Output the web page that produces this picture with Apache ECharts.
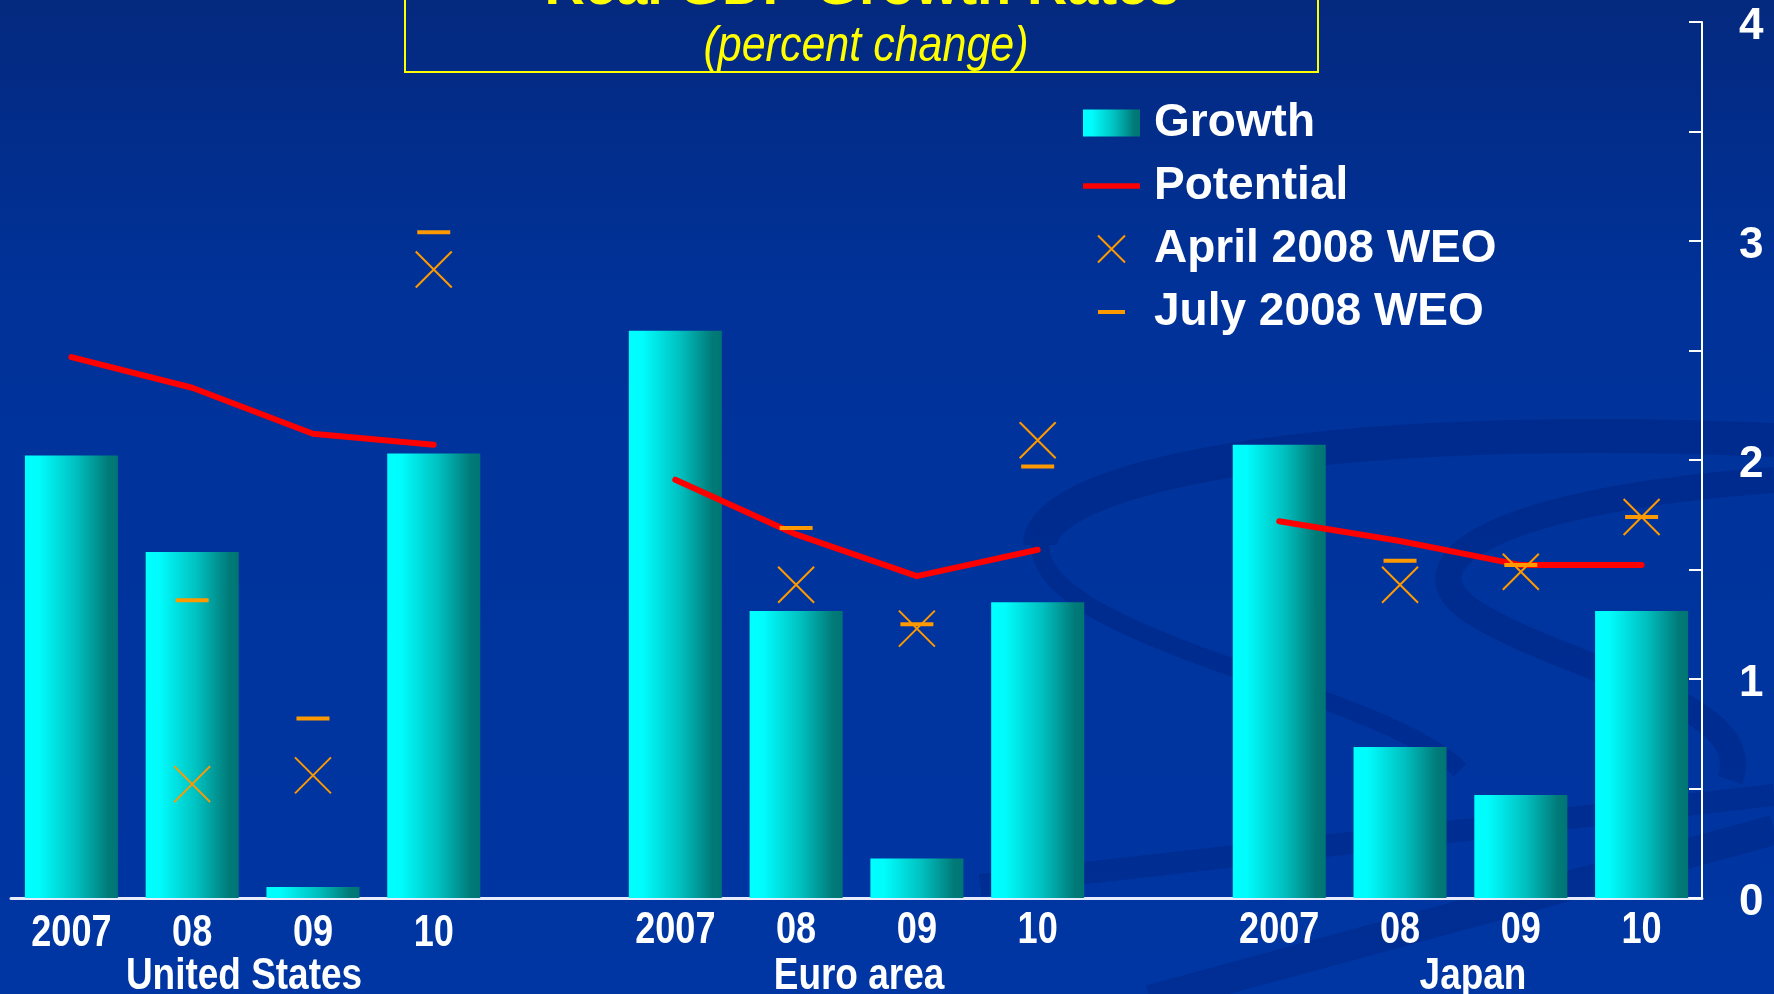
<!DOCTYPE html>
<html>
<head>
<meta charset="utf-8">
<script src="https://cdn.jsdelivr.net/npm/echarts@6/dist/echarts.min.js"></script>
<style>
html,body{margin:0;padding:0;background:#0033a0;}
#chart{width:1774px;height:994px;}
</style>
</head>
<body>
<div id="chart"></div>
<script>
// ---- data ----
const categories = ['2007','08','09','10','','2007','08','09','10','','2007','08','09','10'];
const growth    = [2.02, 1.58, 0.05, 2.03, null, 2.59, 1.31, 0.18, 1.35, null, 2.07, 0.69, 0.47, 1.31];
const potential = [2.47, 2.33, 2.12, 2.07, null, 1.91, 1.66, 1.47, 1.59, null, 1.72, 1.63, 1.52, 1.52];
const april2008 = [null, 0.52, 0.56, 2.87, null, null, 1.43, 1.23, 2.09, null, null, 1.43, 1.49, 1.74];
const july2008  = [null, 1.36, 0.82, 3.04, null, null, 1.69, 1.25, 1.97, null, null, 1.54, 1.52, 1.74];
const groupNames = ['United States', 'Euro area', 'Japan'];
const yTicks = [0, 1, 2, 3, 4];

const chart = echarts.init(document.getElementById('chart'), null, {renderer: 'canvas'});

const barGradient = new echarts.graphic.LinearGradient(0, 0, 1, 0, [
  {offset: 0, color: '#00FFFF'},
  {offset: 0.15, color: '#00FCFC'},
  {offset: 0.55, color: '#00C0C0'},
  {offset: 0.9, color: '#007A78'},
  {offset: 1, color: '#007674'}
]);

const boldFont = "'Liberation Sans', Arial, sans-serif";
const labelShadow = {textShadowColor: 'rgba(0,0,30,0.85)', textShadowOffsetX: 2, textShadowOffsetY: 2};

const swoosh = 'rgba(0,22,100,0.24)';
const groupLabelX = [244, 859, 1473];

function baseGraphics() {
  return [
    // decorative background swooshes
    {type: 'bezierCurve', z: -10, silent: true, shape: {x1: 1774, y1: 440, cpx1: 1300, cpy1: 420, cpx2: 1040, cpy2: 480, x2: 1040, y2: 545}, style: {stroke: swoosh, lineWidth: 34, fill: null}},
    {type: 'bezierCurve', z: -10, silent: true, shape: {x1: 1040, y1: 545, cpx1: 1040, cpy1: 640, cpx2: 1380, cpy2: 690, x2: 1460, y2: 770}, style: {stroke: swoosh, lineWidth: 18, fill: null}},
    {type: 'bezierCurve', z: -10, silent: true, shape: {x1: 1774, y1: 480, cpx1: 1500, cpy1: 500, cpx2: 1400, cpy2: 560, x2: 1470, y2: 610}, style: {stroke: swoosh, lineWidth: 26, fill: null}},
    {type: 'bezierCurve', z: -10, silent: true, shape: {x1: 1470, y1: 610, cpx1: 1560, cpy1: 670, cpx2: 1760, cpy2: 700, x2: 1730, y2: 780}, style: {stroke: swoosh, lineWidth: 26, fill: null}},
    {type: 'line', z: -10, silent: true, shape: {x1: 980, y1: 885, x2: 1774, y2: 795}, style: {stroke: swoosh, lineWidth: 22}},
    {type: 'line', z: -10, silent: true, shape: {x1: 1150, y1: 1000, x2: 1774, y2: 830}, style: {stroke: swoosh, lineWidth: 30}},
    // title box
    {type: 'rect', z: 10, silent: true, shape: {x: 405, y: -10, width: 913, height: 82}, style: {fill: 'rgba(0,0,0,0)', stroke: '#FFFF00', lineWidth: 2}},
    {type: 'text', z: 10, silent: true, x: 862, y: 17, style: {text: 'Real GDP Growth Rates', fill: '#FFFF00', font: "bold 56px " + boldFont, textAlign: 'center', textVerticalAlign: 'bottom'}},
    {type: 'text', z: 10, silent: true, x: 866, y: 47, scaleX: 0.86, style: {text: '(percent change)', fill: '#FFFF00', font: "italic 50px " + boldFont, textAlign: 'center', textVerticalAlign: 'middle'}},
    // group labels
    ...groupNames.map((g, i) => ({type: 'text', z: 10, silent: true, x: groupLabelX[i], y: 977, scaleX: 0.84,
      style: Object.assign({text: g, fill: '#FFFFFF', font: "bold 44px " + boldFont, textAlign: 'center', textVerticalAlign: 'middle'}, labelShadow)}))
  ];
}

const option = {
  backgroundColor: new echarts.graphic.LinearGradient(0, 0, 0, 1, [
    {offset: 0, color: '#04297F'},
    {offset: 0.3, color: '#003299'},
    {offset: 1, color: '#0036A3'}
  ]),
  animation: false,
  grid: {left: 11, right: 72, top: 22, bottom: 96, containLabel: false, outerBoundsMode: 'none'},
  legend: {
    orient: 'vertical',
    left: 1083,
    top: 100,
    padding: 0,
    itemWidth: 57,
    itemHeight: 27,
    itemGap: 17,
    selectedMode: false,
    textStyle: {color: '#FFFFFF', fontSize: 46, fontWeight: 'bold', fontFamily: boldFont, padding: [0, 0, 0, 9],
      textShadowColor: 'rgba(0,0,30,0.5)', textShadowOffsetX: 2, textShadowOffsetY: 2},
    data: [
      {name: 'Growth', icon: 'rect'},
      {name: 'Potential', icon: 'path://M0,0 H60 V6 H0 Z'},
      {name: 'April 2008 WEO', icon: 'path://M-5,0 M15,0 M0,0 L10,10 M10,0 L0,10'},
      {name: 'July 2008 WEO', icon: 'path://M-5,-5 M15,5 M0,-0.75 H10 V0.75 H0 Z'}
    ]
  },
  xAxis: {
    type: 'category',
    data: categories,
    axisLine: {show: true, lineStyle: {color: '#E8ECFF', width: 3}},
    axisTick: {show: false},
    axisLabel: {show: false},
    splitLine: {show: false}
  },
  yAxis: {
    type: 'value',
    position: 'right',
    min: 0, max: 4, interval: 1,
    axisLine: {show: true, lineStyle: {color: '#FFFFFF', width: 2}},
    axisTick: {show: true, inside: true, length: 13, lineStyle: {color: '#FFFFFF', width: 2}},
    minorTick: {show: true, splitNumber: 2, length: 13, lineStyle: {color: '#FFFFFF', width: 2}},
    axisLabel: {margin: 37,
      formatter: function (v) { return yTicks.indexOf(v) >= 0 ? '{n|' + v + '}' : ''; },
      rich: {n: {color: '#FFFFFF', fontSize: 44, fontWeight: 'bold', fontFamily: boldFont, padding: [10, 0, 0, 0]}}},
    splitLine: {show: false}
  },
  series: [
    {
      name: 'Growth', type: 'bar', data: growth,
      barWidth: '77%',
      itemStyle: {color: barGradient},
      z: 2
    },
    {
      name: 'Potential', type: 'line', data: potential,
      symbol: 'none', showSymbol: false, connectNulls: false,
      itemStyle: {color: '#FF0000'},
      lineStyle: {color: '#FF0000', width: 6, cap: 'round', join: 'round'},
      z: 3
    },
    {
      name: 'April 2008 WEO', type: 'scatter', data: april2008,
      symbol: 'path://M0,0 L10,10 M10,0 L0,10',
      symbolSize: 36,
      itemStyle: {color: 'rgba(0,0,0,0)', borderColor: '#FF9900', borderWidth: 2, opacity: 1},
      z: 4
    },
    {
      name: 'July 2008 WEO', type: 'scatter', data: july2008,
      symbol: 'path://M0,0 H10 V1 H0 Z',
      symbolSize: [33, 4],
      itemStyle: {color: '#FF9900', opacity: 1},
      z: 5
    }
  ],
  graphic: baseGraphics()
};

chart.setOption(option);

// Condensed category labels, placed at the category positions given by the x axis scale
const baseY = chart.convertToPixel({yAxisIndex: 0}, 0);
const catLabels = categories.map((c, i) => ({
  type: 'text', z: 10, silent: true,
  x: chart.convertToPixel({xAxisIndex: 0}, i),
  y: baseY + (i < 4 ? 36 : 33),
  scaleX: 0.82,
  style: Object.assign({text: c, fill: '#FFFFFF', font: "bold 44px " + boldFont, textAlign: 'center', textVerticalAlign: 'middle'}, labelShadow)
}));
chart.setOption({graphic: baseGraphics().concat(catLabels)});
</script>
</body>
</html>
